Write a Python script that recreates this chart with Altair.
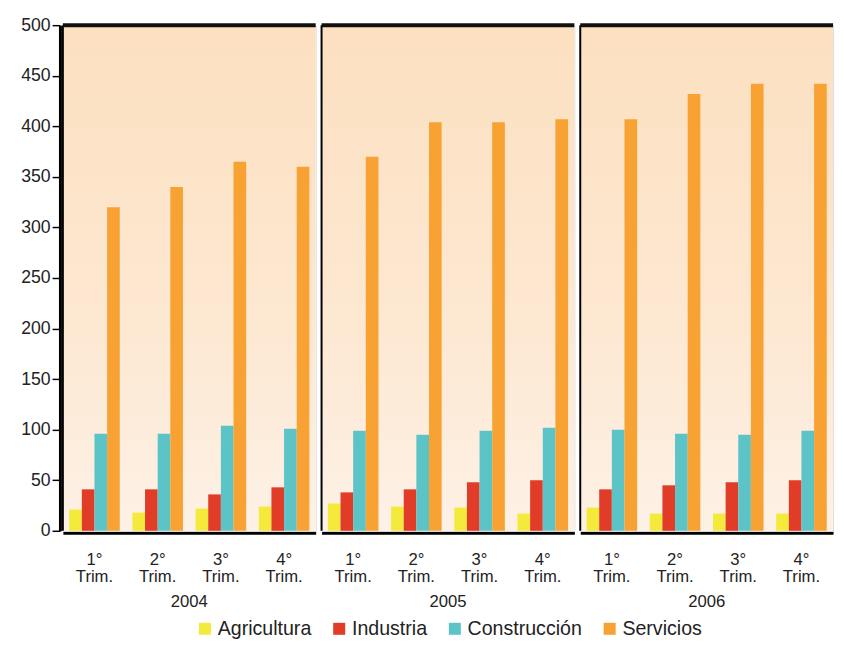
import altair as alt
import pandas as pd

years = ["2004", "2005", "2006"]
quarters = ["1° Trim.", "2° Trim.", "3° Trim.", "4° Trim."]
sectors = ["Agricultura", "Industria", "Construcción", "Servicios"]
colors = ["#F4EA3C", "#E03C28", "#5CC3C6", "#F7A232"]

agricultura = [21, 18, 22, 24, 27, 24, 23, 17, 23, 17, 17, 17]
industria = [41, 41, 36, 43, 38, 41, 48, 50, 41, 45, 48, 50]
construccion = [96, 96, 104, 101, 99, 95, 99, 102, 100, 96, 95, 99]
servicios = [320, 340, 365, 360, 370, 404, 404, 407, 407, 432, 442, 442]

series = dict(zip(sectors, [agricultura, industria, construccion, servicios]))
rows = []
for s in sectors:
    for i, v in enumerate(series[s]):
        rows.append({"year": years[i // 4], "quarter": quarters[i % 4], "sector": s, "value": v})
df = pd.DataFrame(rows)

W, H = 258, 516
FONT = "Liberation Sans"

grad = alt.LinearGradient(
    gradient="linear",
    stops=[alt.GradientStop(color="#FCE0C0", offset=0),
           alt.GradientStop(color="#FDE8D2", offset=0.6),
           alt.GradientStop(color="#FDF1E6", offset=1)],
    x1=0, x2=0, y1=0, y2=1,
)

one_row = (alt.datum.quarter == quarters[0]) & (alt.datum.sector == sectors[0])

bg = alt.Chart().mark_rect(fill=grad).encode(
    x=alt.value(0), x2=alt.value(W), y=alt.value(0), y2=alt.value(H)
).transform_filter(one_row)

sep = alt.Chart().mark_rule(color="black", strokeWidth=2).encode(
    x=alt.value(0), y=alt.value(0), y2=alt.value(H)
).transform_filter(one_row)

top = alt.Chart().mark_rule(color="#111", strokeWidth=4).encode(
    x=alt.value(0), x2=alt.value(W), y=alt.value(0)
).transform_filter(one_row)

bars = alt.Chart().mark_bar().encode(
    x=alt.X("quarter:N", sort=quarters,
            scale=alt.Scale(paddingInner=0.2, paddingOuter=0.1),
            axis=alt.Axis(title=None, labelAngle=0, labelExpr="split(datum.label, ' ')",
                          ticks=False, domainColor="black", domainWidth=3,
                          labelFontSize=17, labelLineHeight=18, labelPadding=19,
                          labelColor="#222")),
    xOffset=alt.XOffset("sector:N", sort=sectors,
                        scale=alt.Scale(paddingInner=0, paddingOuter=0)),
    y=alt.Y("value:Q", scale=alt.Scale(domain=[0, 500], nice=False),
            axis=alt.Axis(title=None, values=list(range(0, 501, 50)), grid=False,
                          tickColor="black", tickSize=8, tickWidth=1.5,
                          domainColor="black", domainWidth=3,
                          labelFontSize=18, labelPadding=2, labelColor="#222")),
    color=alt.Color("sector:N", sort=sectors,
                    scale=alt.Scale(domain=sectors, range=colors),
                    legend=alt.Legend(title=None, orient="none", direction="horizontal",
                                      legendX=135, legendY=H + 90,
                                      symbolType="square", symbolSize=150,
                                      symbolStrokeWidth=0, labelFontSize=20,
                                      labelColor="#222", columnPadding=18,
                                      labelOffset=3)),
)

chart = alt.layer(bg, bars, sep, top, data=df).properties(width=W, height=H).facet(
    column=alt.Column("year:N", sort=years,
                      header=alt.Header(title=None, labelOrient="bottom",
                                        labelFontSize=17, labelColor="#222",
                                        labelPadding=10)),
    spacing=0,
).configure_view(
    stroke="transparent"
).configure(
    font=FONT, padding={"left": 12, "top": 2, "right": 0, "bottom": 0}
)

chart.save("out.html", embed_options={"renderer": "svg", "actions": False})
